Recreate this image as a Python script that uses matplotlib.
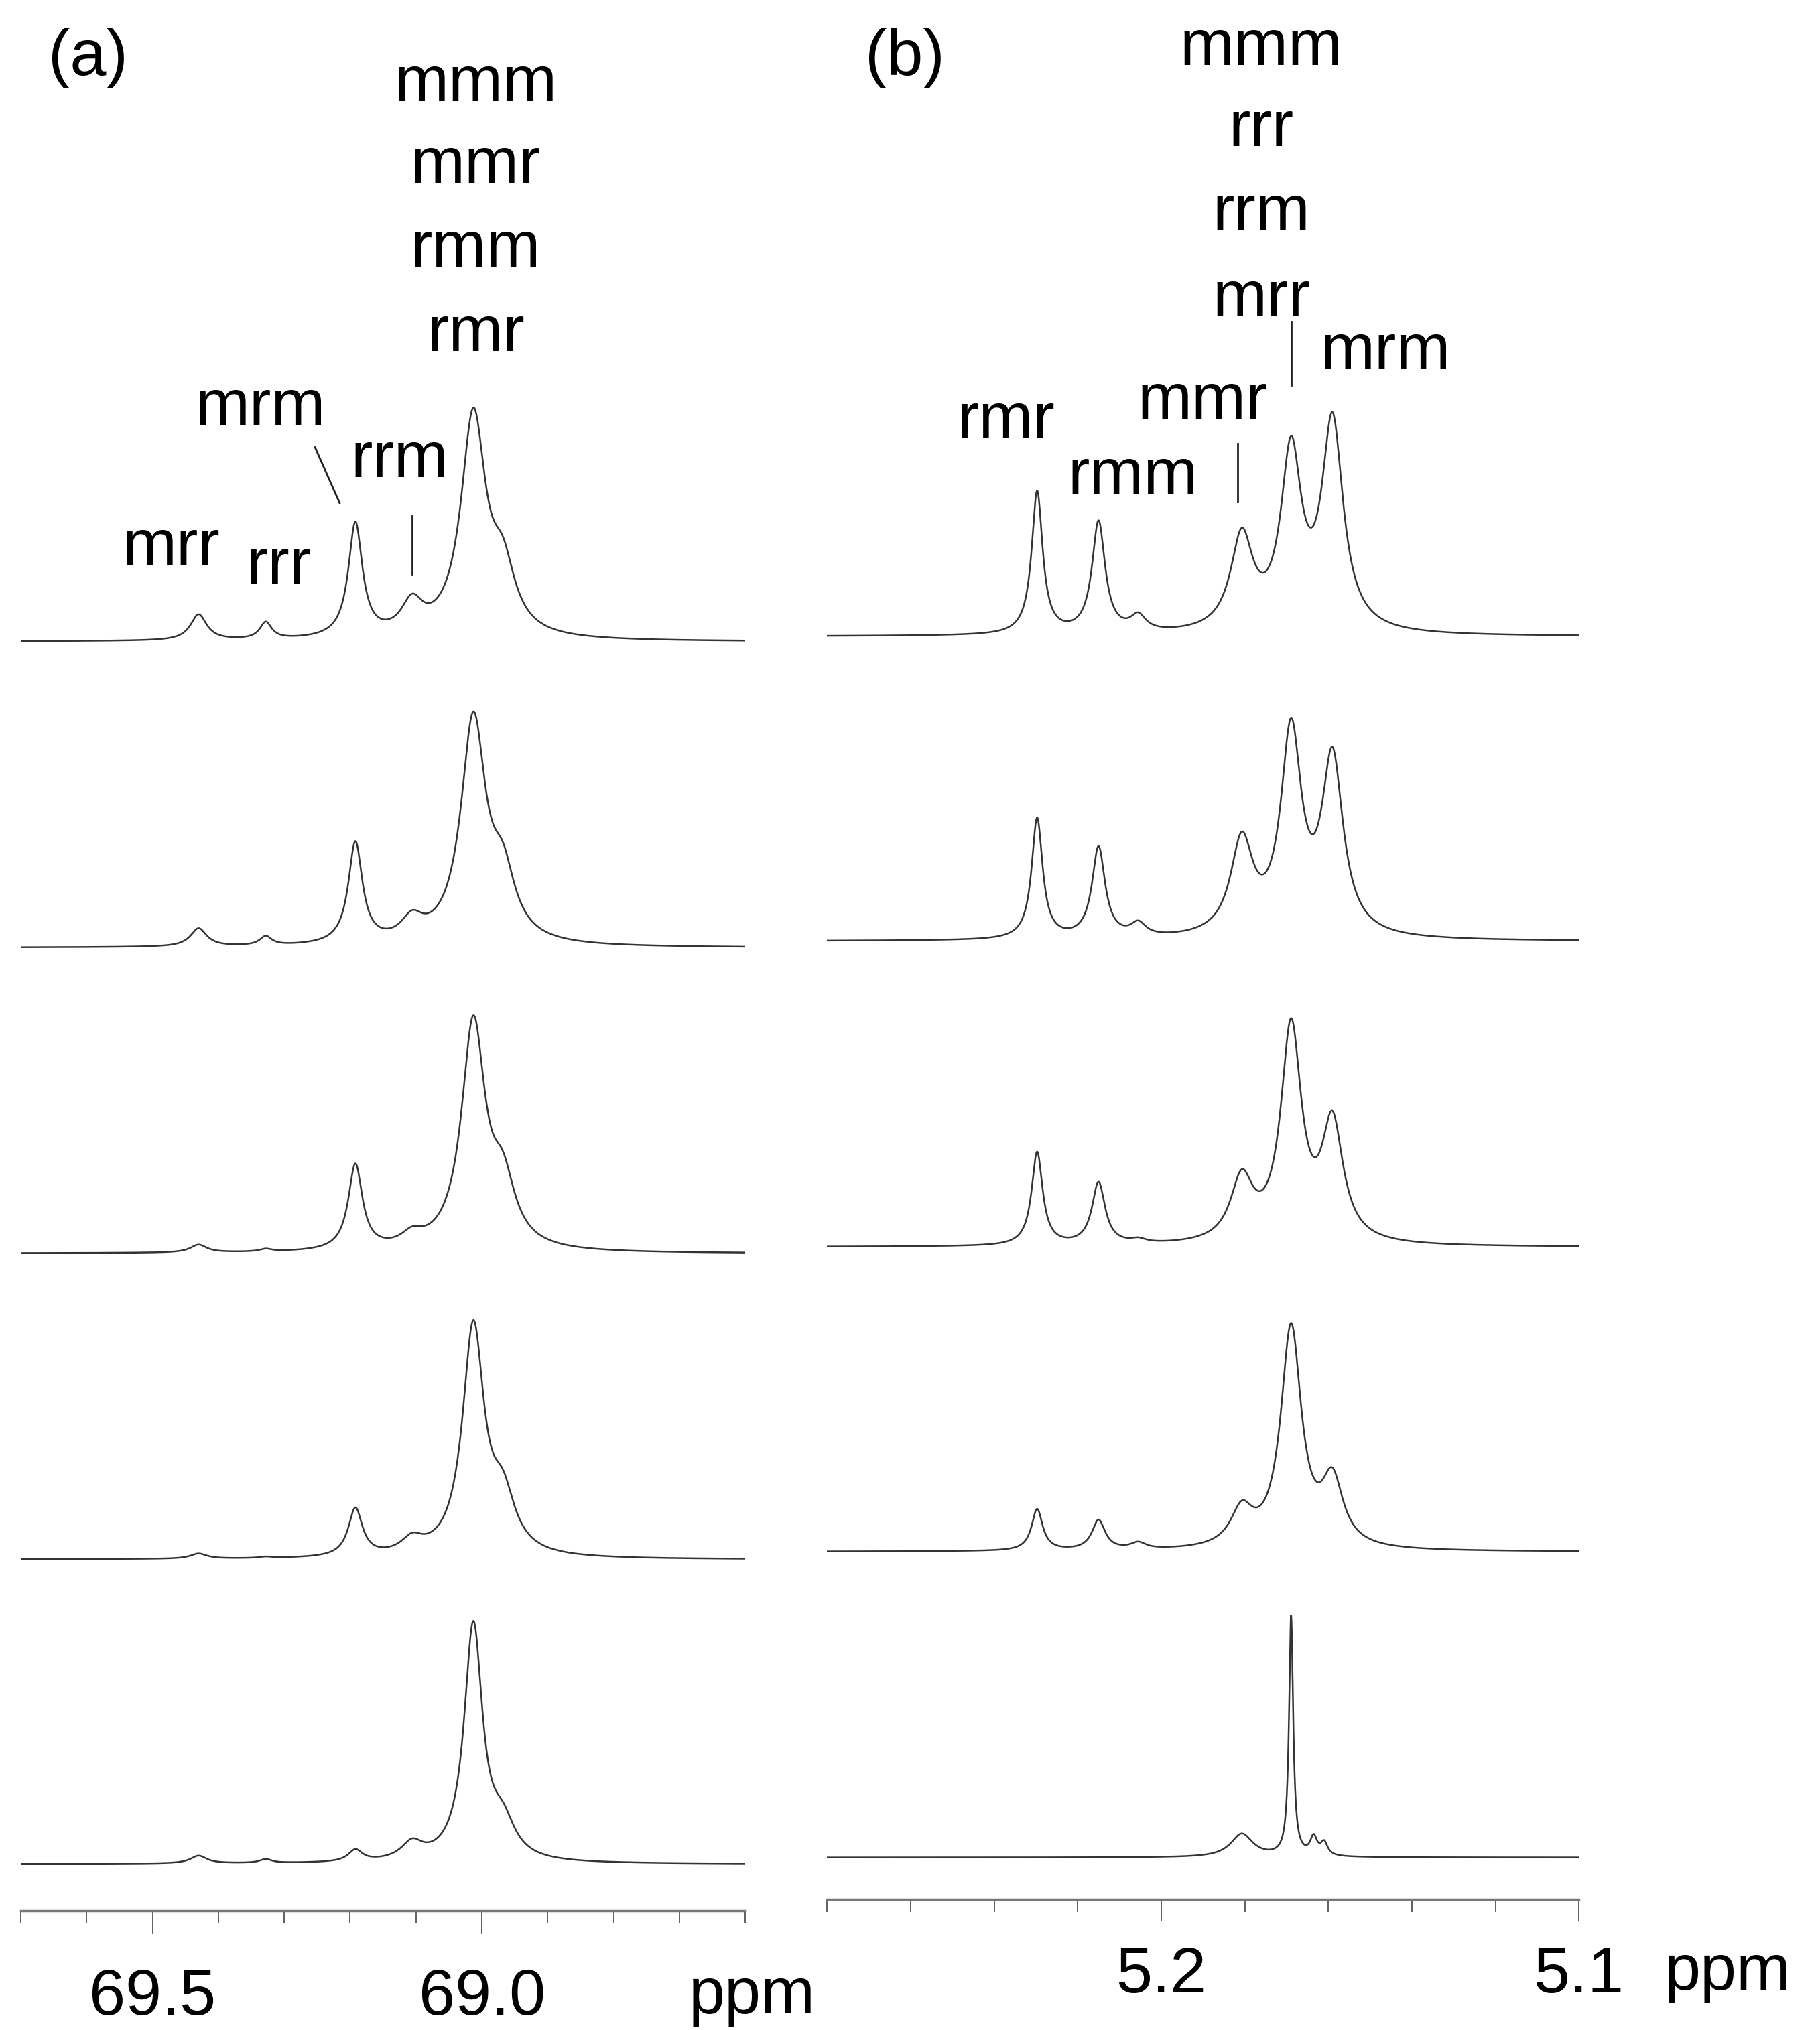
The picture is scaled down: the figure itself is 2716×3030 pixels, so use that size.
import numpy as np
import matplotlib
matplotlib.use("Agg")
import matplotlib.pyplot as plt

FONT = ['Liberation Sans', 'DejaVu Sans']
plt.rcParams['font.family'] = FONT

# ---- data: peak positions (ppm), heights, widths (FWHM ppm) ----
# panel (a) 13C CH region
a_pos = [69.43, 69.328, 69.192, 69.106, 69.013, 68.968]
a_wid = [0.030, 0.022, 0.026, 0.040, 0.046, 0.045]
a_main_wid = [0.046, 0.046, 0.044, 0.040, 0.034]
a_heights = [
    [20, 13, 88, 24, 170, 45],
    [14, 7, 78, 16, 172, 45],
    [6, 2, 66, 9, 174, 45],
    [4, 1, 37, 11, 176, 40],
    [6, 3, 9, 13, 182, 25],
]
a_baselines = [495, 731, 967, 1203, 1438]

# panel (b) 1H CH region
b_pos = [5.2297, 5.2150, 5.2055, 5.1807, 5.1689, 5.1590, 5.1635, 5.1610]
b_wid = [0.0032, 0.0038, 0.0045, 0.0065, 0.0060, 0.0062, 0.0020, 0.0020]
b_heights = [
    [110, 86, 12, 72, 135, 160, 0, 0],
    [93, 70, 10, 72, 155, 135, 0, 0],
    [72, 48, 3, 48, 165, 90, 0, 0],
    [32, 23, 5, 28, 170, 50, 0, 0],
    [0, 0, 0, 18, 0, 0, 14, 10],
]
b_sharp_h = 185
b_baselines = [491, 726, 962, 1197, 1433]

a_range = (69.70, 68.60)
b_range = (5.28, 5.10)


def lor(x, x0, h, w):
    return h / (1 + ((x - x0) / (w / 2)) ** 2)


fig = plt.figure(figsize=(27.16, 30.30), dpi=100)
W, H = 1404, 1566

axA = fig.add_axes([16 / W, 1 - 1474 / H, (575 - 16) / W, 1474 / H])
axB = fig.add_axes([638 / W, 1 - 1465 / H, (1218 - 638) / W, 1465 / H])
line_col = '#333333'

xa = np.linspace(*a_range, 4000)
for hs, base, mw in zip(a_heights, a_baselines, a_main_wid):
    y = np.zeros_like(xa)
    for j, (p, w, h) in enumerate(zip(a_pos, a_wid, hs)):
        y += lor(xa, p, h, mw if j == 4 else w)
    axA.plot(xa, y - base, color=line_col, lw=1.8)

xb = np.linspace(*b_range, 4000)
for i, (hs, base) in enumerate(zip(b_heights, b_baselines)):
    y = np.zeros_like(xb)
    for p, w, h in zip(b_pos, b_wid, hs):
        y += lor(xb, p, h, w)
    if i == 4:
        y += lor(xb, 5.1689, b_sharp_h, 0.0012)
    axB.plot(xb, y - base, color=line_col, lw=1.8)

for ax, rng, bot in [(axA, a_range, 1474), (axB, b_range, 1465)]:
    ax.set_xlim(*rng)
    ax.set_ylim(-bot, 0)
    for s in ['top', 'left', 'right']:
        ax.spines[s].set_visible(False)
    ax.spines['bottom'].set_color('#777777')
    ax.spines['bottom'].set_linewidth(2.5)
    ax.set_yticks([])
    ax.patch.set_alpha(0)

axA.set_xticks([69.5, 69.0])
axA.set_xticklabels(['69.5', '69.0'])
axA.set_xticks(np.round(np.arange(68.6, 69.71, 0.1), 2), minor=True)
axB.set_xticks([5.2, 5.1])
axB.set_xticklabels(['5.2', '5.1'])
axB.set_xticks(np.round(np.arange(5.10, 5.281, 0.02), 2), minor=True)
axA.tick_params(axis='x', which='major', length=25, width=1.2, pad=36, labelsize=70, color='#444444')
axA.tick_params(axis='x', which='minor', length=14, width=1.2, color='#444444')
axB.tick_params(axis='x', which='major', length=24, width=1.2, pad=26, labelsize=70, color='#444444')
axB.tick_params(axis='x', which='minor', length=14, width=1.2, color='#444444')
axB.get_xticklabels()[1].set_x(5.1035)


def px2a(x):
    return a_range[0] - (x - 16) * (a_range[0] - a_range[1]) / (575 - 16)


def px2b(x):
    return b_range[0] - (x - 638) * (b_range[0] - b_range[1]) / (1218 - 638)


FS = 70
labelsA = [("(a)", 68, 45), ("mmm", 367, 65), ("mmr", 367, 128), ("rmm", 367, 193),
           ("rmr", 367, 258), ("mrm", 201, 315), ("rrm", 308, 355), ("mrr", 132, 423),
           ("rrr", 215, 437)]
for t, x, y in labelsA:
    axA.text(px2a(x), -y, t, ha='center', va='center', fontsize=FS, clip_on=False)
axA.plot([px2a(243), px2a(262)], [-345, -388], color='#222222', lw=2)
axA.plot([px2a(318), px2a(318)], [-398, -443], color='#222222', lw=2)
axA.text(px2a(580), -1540, "ppm", ha='center', va='center', fontsize=FS, clip_on=False)

labelsB = [("(b)", 698, 45), ("mmm", 973, 37), ("rrr", 973, 100), ("rrm", 973, 165),
           ("mrr", 973, 231), ("mrm", 1069, 272), ("rmr", 776, 325), ("rmm", 874, 368),
           ("mmr", 928, 310)]
for t, x, y in labelsB:
    axB.text(px2b(x), -y, t, ha='center', va='center', fontsize=FS, clip_on=False)
axB.plot([px2b(955), px2b(955)], [-342, -387], color='#222222', lw=2)
axB.plot([px2b(996), px2b(996)], [-248, -297], color='#222222', lw=2)
axB.text(px2b(1333), -1522, "ppm", ha='center', va='center', fontsize=FS, clip_on=False)

fig.savefig("out.png", dpi=100)
